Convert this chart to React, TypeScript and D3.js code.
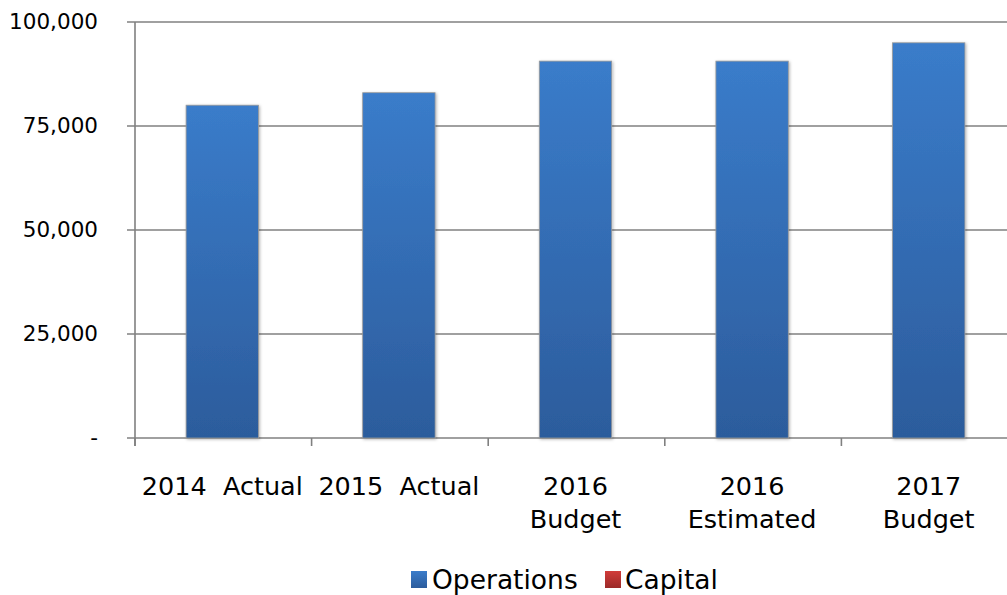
import React, { useRef, useEffect } from "react";
import * as d3 from "d3";

const categories = ["2014  Actual", "2015  Actual", "2016 Budget", "2016 Estimated", "2017 Budget"];
const labelLines = [["2014  Actual"], ["2015  Actual"], ["2016", "Budget"], ["2016", "Estimated"], ["2017", "Budget"]];
const operations = [80000, 83000, 90600, 90600, 95000];
const capital = [0, 0, 0, 0, 0];
const yTicks = [0, 25000, 50000, 75000, 100000];
const seriesNames = ["Operations", "Capital"];

const FONT = "'DejaVu Sans', sans-serif";

const App = () => {
  const ref = useRef<SVGSVGElement>(null);
  const width = 1007;
  const height = 595;

  useEffect(() => {
    const svg = d3.select(ref.current);
    svg.selectChildren().remove();

    const left = 134;
    const right = 1017;
    const top = 22;
    const bottom = 438;

    const defs = svg.append("defs");
    const g1 = defs.append("linearGradient").attr("id", "gOps").attr("x1", 0).attr("y1", 0).attr("x2", 0).attr("y2", 1);
    g1.append("stop").attr("offset", "0%").attr("stop-color", "#3a7cca");
    g1.append("stop").attr("offset", "100%").attr("stop-color", "#2c5c9c");
    const g2 = defs.append("linearGradient").attr("id", "gCap").attr("x1", 0).attr("y1", 0).attr("x2", 0).attr("y2", 1);
    g2.append("stop").attr("offset", "0%").attr("stop-color", "#d13c3a");
    g2.append("stop").attr("offset", "100%").attr("stop-color", "#9c2a28");
    const f = defs.append("filter").attr("id", "sh").attr("x", "-20%").attr("y", "-20%").attr("width", "140%").attr("height", "140%");
    f.append("feDropShadow").attr("dx", 1).attr("dy", 1).attr("stdDeviation", 1.5).attr("flood-color", "#000").attr("flood-opacity", 0.3);

    const x = d3.scaleBand().domain(categories).range([left, right]).paddingInner(0.59).paddingOuter(0.295);
    const y = d3.scaleLinear().domain([0, 100000]).range([bottom, top]);

    // gridlines
    svg.append("g")
      .selectAll("line")
      .data(yTicks)
      .join("line")
      .attr("x1", left - 7)
      .attr("x2", width)
      .attr("y1", (d) => y(d))
      .attr("y2", (d) => y(d))
      .attr("stroke", "#808080")
      .attr("stroke-width", 1.6);

    // y axis
    svg.append("line")
      .attr("x1", left + 1).attr("x2", left + 1)
      .attr("y1", top).attr("y2", bottom + 8)
      .attr("stroke", "#808080").attr("stroke-width", 1.6);

    // category ticks
    const step = x.step();
    svg.append("g")
      .selectAll("line")
      .data(d3.range(categories.length + 1))
      .join("line")
      .attr("x1", (i) => left + 1 + i * step)
      .attr("x2", (i) => left + 1 + i * step)
      .attr("y1", bottom)
      .attr("y2", bottom + 8)
      .attr("stroke", "#808080")
      .attr("stroke-width", 1.6);

    // y labels
    svg.append("g")
      .selectAll("text")
      .data(yTicks)
      .join("text")
      .attr("x", 98)
      .attr("y", (d) => y(d) + 7)
      .attr("text-anchor", "end")
      .attr("font-family", FONT)
      .attr("font-size", 21.5)
      .attr("fill", "#000")
      .text((d) => (d === 0 ? "-" : d3.format(",")(d)));

    // bars
    svg.append("g")
      .selectAll("rect")
      .data(operations)
      .join("rect")
      .attr("x", (d, i) => x(categories[i]) as number)
      .attr("y", (d) => y(d))
      .attr("width", x.bandwidth())
      .attr("height", (d) => bottom - y(d))
      .attr("fill", "url(#gOps)")
      .attr("stroke", "#9a9a9a")
      .attr("stroke-width", 0.8)
      .attr("filter", "url(#sh)");

    svg.append("g")
      .selectAll("rect")
      .data(capital)
      .join("rect")
      .attr("x", (d, i) => (x(categories[i]) as number) + x.bandwidth())
      .attr("y", (d) => y(d))
      .attr("width", 0)
      .attr("height", (d) => bottom - y(d))
      .attr("fill", "url(#gCap)");

    // category labels
    const lab = svg.append("g");
    labelLines.forEach((lines, i) => {
      const cx = (x(categories[i]) as number) + x.bandwidth() / 2;
      const t = lab.append("text")
        .attr("text-anchor", "middle")
        .attr("font-family", FONT)
        .attr("font-size", 25.5)
        .attr("fill", "#000")
        .attr("xml:space", "preserve")
        .style("white-space", "pre");
      lines.forEach((l, k) => {
        t.append("tspan").attr("x", cx).attr("y", 495 + k * 33).text(l);
      });
    });

    // legend
    const leg = svg.append("g");
    const items = [
      { name: seriesNames[0], fill: "url(#gOps)", sx: 411, tx: 432 },
      { name: seriesNames[1], fill: "url(#gCap)", sx: 605, tx: 625 },
    ];
    items.forEach((it) => {
      leg.append("rect").attr("x", it.sx).attr("y", 571).attr("width", 16).attr("height", 17).attr("fill", it.fill);
      leg.append("text")
        .attr("x", it.tx)
        .attr("y", 589)
        .attr("font-family", FONT)
        .attr("font-size", 26.5)
        .attr("fill", "#000")
        .text(it.name);
    });
  });

  return (
    <div style={{ position: "absolute", left: 0, top: 0 }}>
      <svg ref={ref} width={width} height={height} style={{ display: "block" }}></svg>
    </div>
  );
};

export default App;
